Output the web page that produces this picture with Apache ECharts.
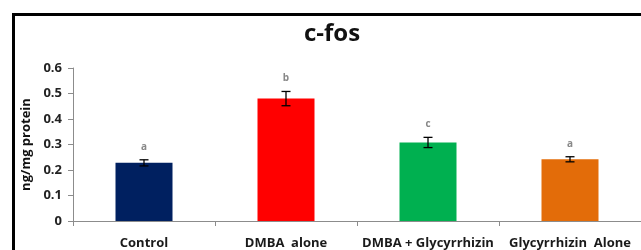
<!DOCTYPE html>
<html>
<head>
<meta charset="utf-8">
<script src="https://cdn.jsdelivr.net/npm/echarts@6/dist/echarts.min.js"></script>
<style>
  html, body { margin: 0; padding: 0; background: #fff; }
  #chart { width: 641px; height: 250px; }
</style>
</head>
<body>
<div id="chart"></div>
<script>
const categories = ["Control", "DMBA  alone", "DMBA + Glycyrrhizin", "Glycyrrhizin  Alone"];
const values = [0.228, 0.480, 0.308, 0.242];
const errors = [0.012, 0.028, 0.020, 0.010];
const letters = ["a", "b", "c", "a"];
const colors = ["#002060", "#FF0000", "#00B050", "#E36C09"];

const chart = echarts.init(document.getElementById("chart"));

const option = {
  animation: false,
  title: {
    text: "c-fos",
    left: 327,
    top: 17,
    textAlign: "center",
    textStyle: { fontFamily: "Open Sans", fontWeight: "bold", fontSize: 24, color: "#111" }
  },
  graphic: [{
    type: "rect",
    shape: { x: 13.5, y: 14.5, width: 700, height: 300 },
    style: { fill: null, stroke: "#000", lineWidth: 3 },
    silent: true
  }],
  grid: { left: 73, top: 68, height: 153, width: 577 },
  xAxis: {
    type: "category",
    data: categories,
    axisLine: { lineStyle: { color: "#8c8c8c", width: 1 } },
    axisTick: { show: true, length: 5, lineStyle: { color: "#8c8c8c" } },
    axisLabel: {
      interval: 0, margin: 16,
      fontFamily: "Open Sans", fontWeight: "bold", fontSize: 13, color: "#1a1a1a"
    }
  },
  yAxis: {
    type: "value",
    min: 0, max: 0.6, interval: 0.1,
    name: "ng/mg protein",
    nameLocation: "middle",
    nameGap: 40,
    nameTextStyle: { fontFamily: "Open Sans", fontWeight: "bold", fontSize: 13, color: "#111" },
    axisLine: { show: true, lineStyle: { color: "#8c8c8c", width: 1 } },
    axisTick: { show: true, length: 5, lineStyle: { color: "#8c8c8c" } },
    axisLabel: { margin: 11, fontFamily: "Open Sans", fontWeight: "bold", fontSize: 13, color: "#222" },
    splitLine: { show: false }
  },
  series: [
    {
      type: "bar",
      barWidth: 57,
      data: values.map((v, i) => ({ value: v, itemStyle: { color: colors[i] } }))
    },
    {
      type: "custom",
      z: 5,
      data: values.map((v, i) => [i, v, errors[i], letters[i]]),
      renderItem: (params, api) => {
        const x = api.coord([api.value(0), 0])[0];
        const hi = api.coord([api.value(0), api.value(1) + api.value(2)])[1];
        const lo = api.coord([api.value(0), api.value(1) - api.value(2)])[1];
        const cap = 4.5;
        const ls = { stroke: "#000", lineWidth: 1.3 };
        return {
          type: "group",
          children: [
            { type: "line", shape: { x1: x, y1: hi, x2: x, y2: lo }, style: ls },
            { type: "line", shape: { x1: x - cap, y1: hi, x2: x + cap, y2: hi }, style: ls },
            { type: "line", shape: { x1: x - cap, y1: lo, x2: x + cap, y2: lo }, style: ls },
            {
              type: "text",
              style: {
                text: letters[params.dataIndex],
                x: x, y: hi - 13,
                align: "center", verticalAlign: "middle",
                font: "bold 10px Open Sans", fill: "#888"
              }
            }
          ]
        };
      }
    }
  ]
};

chart.setOption(option);
</script>
</body>
</html>
